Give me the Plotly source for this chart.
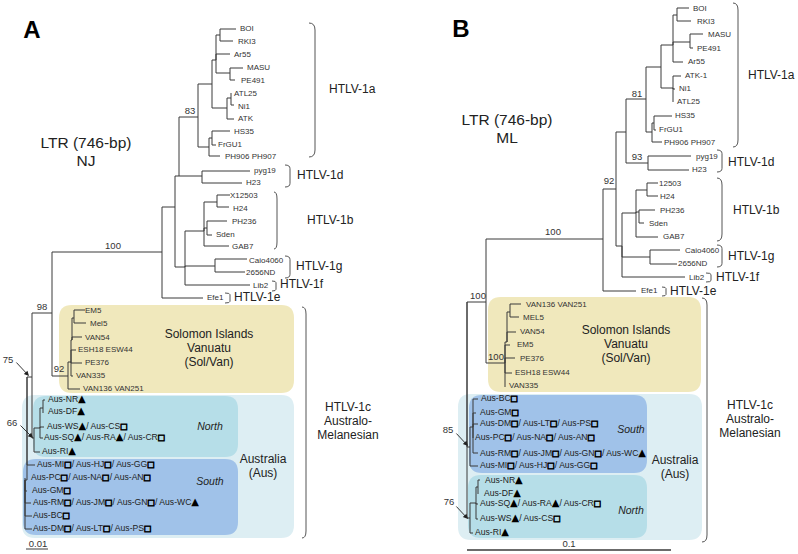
import plotly.graph_objects as go

FONT = "Liberation Sans"
LINE = "#3a3a3a"
T = '<span style="font-family:DejaVu Sans;font-size:10px;fill:#000">\u25b2</span>'
S = '<span style="font-family:DejaVu Sans;font-size:8px;fill:#000;stroke:#000;stroke-width:0.8px">\u25a1</span>'

# ---------- Panel A tree: node, branch end x, branch y, parent ----------
A_node = ["r", "n32", "n34", "n40", "n43", "NR", "DF", "WS", "SQ", "RI",
          "n52", "sv", "v136", "sv2", "v335", "pe", "esh", "sv3", "v54", "sv4", "em", "mel",
          "mi", "s", "pc", "gm", "rm", "bc", "dm",
          "c", "efe", "n1", "n2", "d", "pyg", "h23",
          "a", "a1", "a2", "a3", "boi", "rki", "ar", "a4", "masu", "pe491",
          "a5", "a6", "atl", "ni", "atk", "a7", "a8", "hs", "fr", "ph",
          "g0", "lib", "g", "caio", "nd", "b", "b1", "x", "h24", "b2", "ph236", "sden", "gab"]
A_x = [27, 32, 34, 40, 43, 45, 43, 44, 43, 40,
       52, 68, 80, 71, 73, 82, 76, 72, 82, 74, 85, 86,
       35, 25, 25, 27, 31, 32, 32,
       162, 203, 175, 179, 202, 250, 242,
       198, 212, 216, 220, 236, 233, 230, 230, 243, 235,
       227, 231, 231, 234, 234, 209, 212, 230, 216, 220,
       185, 250, 215, 247, 245, 204, 217, 230, 229, 207, 227, 212, 229]
A_y = [377, 377, 438, 428, 408, 400, 413, 427, 438, 452,
       313, 376, 389, 362, 376, 363, 350, 340, 337, 318, 310, 323,
       465, 480, 478, 491, 503, 516, 529,
       252, 298, 207, 176, 176, 171, 183,
       117, 84, 60, 35, 29, 41, 54, 73, 68, 80,
       108, 98, 93, 105, 119, 147, 138, 131, 145, 156,
       267, 285, 266, 259, 272, 231, 202, 195, 207, 228, 221, 235, 246]
A_parent = [None, "r", "n32", "n34", "n40", "n43", "n43", "n40", "n40", "n34",
            "n32", "n52", "sv", "sv", "sv2", "sv2", "sv2", "sv2", "sv3", "sv3", "sv4", "sv4",
            "r", "r", "s", "s", "s", "s", "s",
            "n52", "c", "c", "n1", "n2", "d", "d",
            "n2", "a", "a1", "a2", "a3", "a3", "a2", "a2", "a4", "a4",
            "a1", "a5", "a6", "a6", "a5", "a", "a7", "a8", "a8", "a7",
            "n1", "g0", "g0", "g", "g", "g0", "b", "b1", "b1", "b", "b2", "b2", "b"]

# ---------- Panel B tree ----------
B_node = ["r", "n0", "n1", "n2", "s", "bc", "gm", "dm", "pc", "rm", "mi",
          "no", "ri", "no1", "ws", "sq", "no2", "nr", "df",
          "t", "sv", "sv2", "v54", "sv3", "v136", "mel", "em", "pe", "esh", "v335",
          "c", "efe", "c1", "c2", "a", "a1", "a2", "a3", "boi", "rki", "a4", "masu", "pe491", "ar",
          "a5", "atk", "ni", "atl", "a6", "a7", "hs", "fr", "ph", "d", "pyg", "h23",
          "k", "lib", "g", "caio", "nd", "b", "b1", "x", "h24", "b2", "ph236", "sden", "gab"]
B_x = [467, 470, 467, 470, 473, 478, 476, 478, 473, 478, 478,
       470, 473, 476, 478, 478, 478, 480, 478,
       486, 505, 507, 516, 510, 521, 519, 510, 515, 512, 505,
       603, 636, 616, 626, 646, 661, 673, 677, 689, 691, 690, 703, 693, 683,
       673, 681, 675, 673, 652, 654, 672, 656, 662, 648, 691, 689,
       622, 685, 650, 680, 677, 636, 647, 658, 658, 639, 655, 644, 658]
B_y = [302, 447, 447, 427, 427, 399, 413, 424, 438, 453, 466,
       518, 533, 503, 519, 504, 487, 480, 494,
       302, 363, 342, 332, 312, 304, 317, 345, 358, 373, 387,
       239, 291, 189, 132, 99, 67, 45, 15, 8, 21, 42, 34, 48, 62,
       88, 76, 89, 102, 132, 123, 116, 130, 142, 163, 156, 170,
       246, 277, 257, 250, 264, 213, 190, 183, 196, 212, 210, 223, 237]
B_parent = [None, "r", "r", "n0", "n2", "s", "s", "s", "s", "s", "n0",
            "n1", "no", "no", "no1", "no1", "no1", "no2", "no2",
            "r", "t", "sv", "sv2", "sv2", "sv3", "sv3", "sv", "sv", "sv", "sv",
            "t", "c", "c", "c1", "c2", "a", "a1", "a2", "a3", "a3", "a2", "a4", "a4", "a2",
            "a1", "a5", "a5", "a5", "a", "a6", "a7", "a7", "a6", "c2", "d", "d",
            "c1", "k", "k", "g", "g", "k", "b", "b1", "b1", "b", "b2", "b2", "b"]

# ---------- Tip labels ----------
A_tip = ["BOI", "RKI3", "Ar55", "MASU", "PE491", "ATL25", "Ni1", "ATK", "HS35", "FrGU1", "PH906 PH907",
         "pyg19", "H23", "X12503", "H24", "PH236", "Sden", "GAB7", "Caio4060", "2656ND", "Lib2", "Efe1",
         "EM5", "Mel5", "VAN54", "ESH18 ESW44", "PE376", "VAN335", "VAN136 VAN251"]
A_tip_x = [240, 238, 234, 247, 241, 234, 238, 238, 234, 218, 225,
           254, 246, 230, 233, 232, 216, 232, 249, 246, 253, 207,
           85, 90, 85, 78, 85, 76, 83]
A_tip_y = [29, 42, 55, 68, 81, 94, 107, 119, 132, 145, 157,
           171, 183, 196, 209, 222, 235, 247, 261, 273, 286, 298,
           311, 324, 338, 350, 363, 376, 389]
B_tip = ["BOI", "RKI3", "MASU", "PE491", "Ar55", "ATK-1", "Ni1", "ATL25", "HS35", "FrGU1", "PH906 PH907",
         "pyg19", "H23", "12503", "H24", "PH236", "Sden", "GAB7", "Caio4060", "2656ND", "Lib2", "Efe1",
         "VAN136 VAN251", "MEL5", "VAN54", "EM5", "PE376", "ESH18 ESW44", "VAN335"]
B_tip_x = [693, 697, 708, 697, 688, 685, 679, 677, 675, 659, 664,
           696, 692, 659, 660, 660, 649, 663, 685, 678, 689, 641,
           526, 523, 520, 517, 520, 515, 509]
B_tip_y = [9, 22, 35, 49, 62, 76, 89, 102, 116, 130, 143,
           157, 170, 184, 197, 211, 224, 237, 251, 264, 278, 291,
           305, 318, 332, 345, 359, 373, 386]

A_aus = [f"Aus-NR{T}", f"Aus-DF{T}", f"Aus-WS{T}/ Aus-CS{S}", f"Aus-SQ{T}/ Aus-RA{T}/ Aus-CR{S}", f"Aus-RI{T}",
         f"Aus-MI{S}/ Aus-HJ{S}/ Aus-GG{S}", f"Aus-PC{S}/ Aus-NA{S}/ Aus-AN{S}", f"Aus-GM{S}",
         f"Aus-RM{S}/ Aus-JM{S}/ Aus-GN{S}/ Aus-WC{T}", f"Aus-BC{S}", f"Aus-DM{S}/ Aus-LT{S}/ Aus-PS{S}"]
A_aus_x = [48, 48, 47, 44, 42, 37, 31, 32, 33, 33, 33]
A_aus_y = [400, 412, 427, 438, 452, 465, 478, 491, 503, 516, 529]
B_aus = [f"Aus-BC{S}", f"Aus-GM{S}", f"Aus-DM{S}/ Aus-LT{S}/ Aus-PS{S}", f"Aus-PC{S}/ Aus-NA{S}/ Aus-AN{S}",
         f"Aus-RM{S}/ Aus-JM{S}/ Aus-GN{S}/ Aus-WC{T}", f"Aus-MI{S}/ Aus-HJ{S}/ Aus-GG{S}",
         f"Aus-NR{T}", f"Aus-DF{T}", f"Aus-SQ{T}/ Aus-RA{T}/ Aus-CR{S}", f"Aus-WS{T}/ Aus-CS{S}", f"Aus-RI{T}"]
B_aus_x = [481, 480, 480, 475, 480, 480, 485, 484, 480, 480, 475]
B_aus_y = [399, 413, 424, 438, 454, 466, 481, 494, 504, 519, 533]

# ---------- Clade names, group captions, support values ----------
clade = ["HTLV-1a", "HTLV-1d", "HTLV-1b", "HTLV-1g", "HTLV-1f", "HTLV-1e",
         "HTLV-1a", "HTLV-1d", "HTLV-1b", "HTLV-1g", "HTLV-1f", "HTLV-1e"]
clade_x = [329, 297, 307, 296, 280, 234, 748, 728, 733, 728, 716, 670]
clade_y = [90, 176, 221, 267, 285, 298, 76, 163, 211, 257, 278, 292]

caption = ["Solomon Islands", "Vanuatu", "(Sol/Van)", "Australia", "(Aus)", "HTLV-1c", "Australo-", "Melanesian",
           "Solomon Islands", "Vanuatu", "(Sol/Van)", "Australia", "(Aus)", "HTLV-1c", "Australo-", "Melanesian"]
caption_x = [209, 209, 209, 263, 263, 348, 348, 348, 626, 626, 626, 675, 675, 750, 750, 750]
caption_y = [335, 349, 363, 460, 474, 408, 422, 436, 331, 345, 359, 461, 475, 406, 420, 434]

method = ["LTR (746-bp)", "NJ", "LTR (746-bp)", "ML"]
method_x = [86, 86, 507, 507]
method_y = [144, 162, 121, 139]

region = ["North", "South", "South", "North"]
region_x = [210, 210, 631, 631]
region_y = [427, 482, 430, 511]

panel = ["A", "B"]
panel_x = [32, 461]
panel_y = [32, 31]

support = ["83", "100", "98", "92", "75", "66", "81", "93", "92", "100", "100", "100", "85", "76", "0.01", "0.1"]
support_x = [190, 113, 42, 59, 8, 12, 637, 637, 609, 553, 478, 496, 448, 449, 38, 569]
support_y = [112, 247, 308, 370, 361, 424, 95, 158, 182, 233, 297, 358, 431, 503, 545, 545]

# ---------- Coloured groups: x0, x1, y0, y1, fill ----------
box_x0 = [59, 22, 33, 23, 488, 458, 469, 468]
box_x1 = [294, 294, 238, 238, 701, 702, 647, 647]
box_y0 = [305, 395, 396, 459, 297, 394, 395, 475]
box_y1 = [393, 538, 457, 535, 392, 540, 473, 538]
box_fill = ["#F0E8BC", "#DDEEF3", "#B6DEE8", "#A0C2E9", "#F0E8BC", "#DDEEF3", "#A0C2E9", "#B6DEE8"]

# ---------- Brackets: open x, spine x, top y, bottom y ----------
br_x0 = [309, 285, 274, 285, 272, 225, 302, 733, 717, 717, 717, 706, 662, 702]
br_x1 = [315, 290, 277, 290, 276, 230, 306, 738, 722, 722, 722, 711, 666, 707]
br_y0 = [23, 165, 192, 256, 281, 293, 307, 3, 150, 178, 245, 273, 287, 298]
br_y1 = [157, 187, 249, 278, 291, 303, 538, 147, 172, 241, 267, 282, 296, 542]

# ---------- Scale bars and arrows ----------
bar_x0 = [26, 467]
bar_x1 = [48, 671]
bar_y = [549, 550]
bar_w = [1, 1.4]

arrow_from_x = [15, 19, 455, 455]
arrow_from_y = [361, 424, 432, 505]
arrow_to_x = [29, 33, 468, 468]
arrow_to_y = [376, 438, 446, 519]


def branches(nodes, xs, ys, parents):
    px, py = [], []
    pos = {n: (x, y) for n, x, y in zip(nodes, xs, ys)}
    for n, p in zip(nodes, parents):
        if p is None:
            continue
        x, y = pos[n]
        x0, y0 = pos[p]
        px += [x0, x0, x, None]
        py += [y0, y, y, None]
    return px, py


def rounded(x0, x1, y0, y1, r=13):
    return (f"M{x0+r},{y0} L{x1-r},{y0} Q{x1},{y0} {x1},{y0+r} L{x1},{y1-r} Q{x1},{y1} {x1-r},{y1} "
            f"L{x0+r},{y1} Q{x0},{y1} {x0},{y1-r} L{x0},{y0+r} Q{x0},{y0} {x0+r},{y0} Z")


def bracket(x0, x1, y0, y1):
    r = min(7, (y1 - y0) / 6)
    return f"M{x0},{y0} Q{x1},{y0} {x1},{y0+r} L{x1},{y1-r} Q{x1},{y1} {x0},{y1}"


def text_trace(txt, xs, ys, size, pos="middle right", color="#222222", bold=False, italic=False):
    return go.Scatter(x=xs, y=ys, text=txt, mode="text", textposition=pos, hoverinfo="skip", showlegend=False,
                      cliponaxis=False,
                      textfont=dict(family=FONT, size=size, color=color,
                                    weight="bold" if bold else "normal",
                                    style="italic" if italic else "normal"))


fig = go.Figure()
for nodes, xs, ys, parents in [(A_node, A_x, A_y, A_parent), (B_node, B_x, B_y, B_parent)]:
    px, py = branches(nodes, xs, ys, parents)
    fig.add_trace(go.Scatter(x=px, y=py, mode="lines", line=dict(color=LINE, width=1),
                             hoverinfo="skip", showlegend=False))
for x0, x1, y, w in zip(bar_x0, bar_x1, bar_y, bar_w):
    fig.add_trace(go.Scatter(x=[x0, x1], y=[y, y], mode="lines", line=dict(color=LINE, width=w),
                             hoverinfo="skip", showlegend=False))

fig.add_trace(text_trace(A_tip + B_tip, A_tip_x + B_tip_x, A_tip_y + B_tip_y, 8, color="#333333"))
fig.add_trace(text_trace(A_aus + B_aus, A_aus_x + B_aus_x, A_aus_y + B_aus_y, 8.6, color="#222222"))
fig.add_trace(text_trace(clade, clade_x, clade_y, 12))
fig.add_trace(text_trace(caption, caption_x, caption_y, 12, pos="middle center"))
fig.add_trace(text_trace(method, method_x, method_y, 15.5, pos="middle center"))
fig.add_trace(text_trace(region, region_x, region_y, 10.5, pos="middle center", italic=True))
fig.add_trace(text_trace(panel, panel_x, panel_y, 24, pos="middle center", color="#000000", bold=True))
fig.add_trace(text_trace(support, support_x, support_y, 9.5, pos="middle center", color="#333333"))

shapes = [dict(type="path", path=rounded(a, b, c, d), fillcolor=f, line=dict(width=0), layer="below")
          for a, b, c, d, f in zip(box_x0, box_x1, box_y0, box_y1, box_fill)]
shapes += [dict(type="path", path=bracket(a, b, c, d), line=dict(color="#555555", width=1), layer="above")
           for a, b, c, d in zip(br_x0, br_x1, br_y0, br_y1)]

annotations = [dict(x=tx, y=ty, ax=fx, ay=fy, xref="x", yref="y", axref="x", ayref="y", text="",
                    showarrow=True, arrowhead=2, arrowsize=1.1, arrowwidth=0.9, arrowcolor="#222222")
               for fx, fy, tx, ty in zip(arrow_from_x, arrow_from_y, arrow_to_x, arrow_to_y)]

fig.update_layout(
    width=798, height=554, margin=dict(l=0, r=0, t=0, b=0),
    paper_bgcolor="white", plot_bgcolor="white", showlegend=False,
    xaxis=dict(range=[0, 798], visible=False, fixedrange=True),
    yaxis=dict(range=[554, 0], visible=False, fixedrange=True),
    shapes=shapes, annotations=annotations,
)
fig.write_html("out.html", config=dict(displayModeBar=False),
               post_script="document.body.style.margin='0';document.body.style.overflow='hidden';")
